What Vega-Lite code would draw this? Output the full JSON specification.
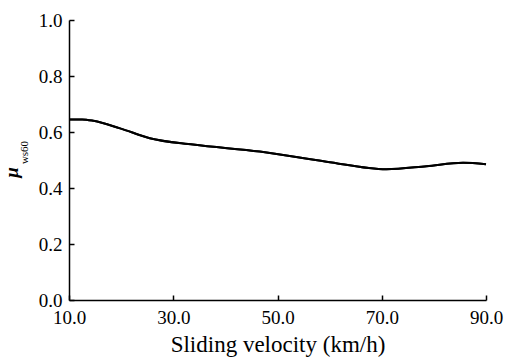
{
  "$schema": "https://vega.github.io/schema/vega-lite/v6.json",
  "width": 417,
  "height": 280,
  "autosize": "none",
  "padding": {"left": 69, "top": 20, "right": 25, "bottom": 60},
  "background": "white",
  "config": {
    "view": {"stroke": null},
    "font": "Liberation Serif",
    "axis": {
      "grid": false,
      "domainColor": "black",
      "domainWidth": 1.5,
      "tickColor": "black",
      "tickWidth": 1.5,
      "tickSize": -5,
      "labelColor": "black",
      "labelFont": "Liberation Serif",
      "labelFontSize": 19,
      "titleColor": "black",
      "titleFont": "Liberation Serif",
      "titleFontWeight": "normal"
    }
  },
  "data": {
    "values": [
      {"v": 10.0, "mu": 0.645},
      {"v": 12.5, "mu": 0.645},
      {"v": 14.7, "mu": 0.640},
      {"v": 19.8, "mu": 0.613},
      {"v": 25.5, "mu": 0.578},
      {"v": 33.8, "mu": 0.555},
      {"v": 46.6, "mu": 0.530},
      {"v": 59.4, "mu": 0.494},
      {"v": 70.9, "mu": 0.467},
      {"v": 78.6, "mu": 0.478},
      {"v": 85.6, "mu": 0.490},
      {"v": 90.0, "mu": 0.485}
    ]
  },
  "resolve": {"axis": {"y": "independent"}},
  "layer": [
    {
      "mark": {"type": "line", "color": "black", "strokeWidth": 2, "interpolate": "monotone"},
      "encoding": {
        "x": {
          "field": "v", "type": "quantitative",
          "scale": {"domain": [10, 90], "nice": false, "zero": false},
          "axis": {"values": [10, 30, 50, 70, 90], "format": ".1f", "title": "Sliding velocity (km/h)", "titleFontSize": 23, "titlePadding": 6, "labelPadding": 13, "labelFlush": false}
        },
        "y": {
          "field": "mu", "type": "quantitative",
          "scale": {"domain": [0, 1], "nice": false},
          "axis": {"values": [0, 0.2, 0.4, 0.6, 0.8, 1.0], "format": ".1f", "title": "μ", "titleFontSize": 19, "titleFontWeight": "bold", "titleFontStyle": "italic", "labelPadding": 12, "titleX": -48, "titleY": 152}
        }
      }
    },
    {
      "mark": {"type": "line", "color": "black", "strokeWidth": 2, "interpolate": "monotone"},
      "encoding": {
        "x": {"field": "v", "type": "quantitative"},
        "y": {
          "field": "mu", "type": "quantitative",
          "axis": {"title": "ws60", "titleFontSize": 11, "titleAngle": 270, "labels": false, "ticks": false, "domain": false, "titleX": -457, "titleY": 132}
        }
      }
    }
  ]
}
